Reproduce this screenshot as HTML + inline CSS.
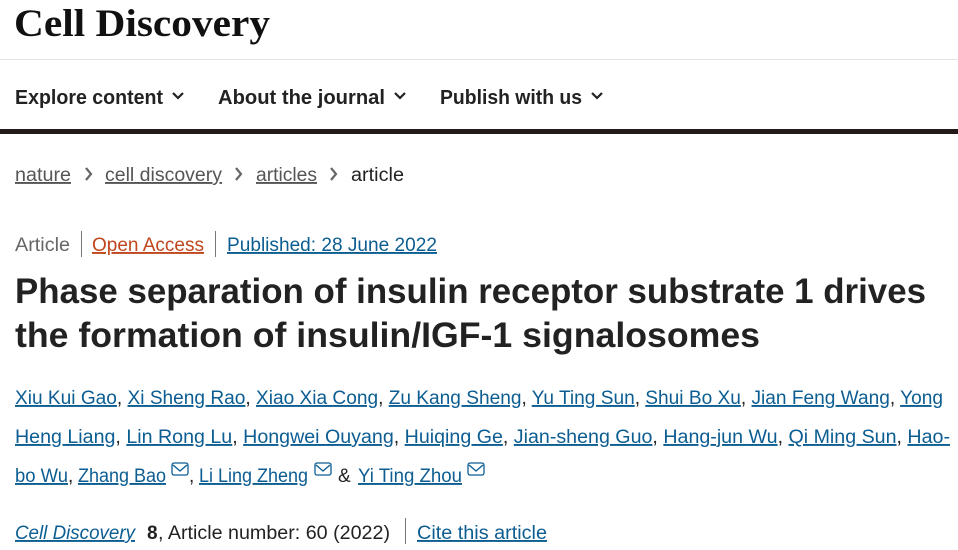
<!DOCTYPE html>
<html><head><meta charset="utf-8"><style>
html,body{margin:0;padding:0;background:#fff;width:958px;height:550px;overflow:hidden}
svg{display:block}
.u{text-decoration:underline}
</style></head><body>
<svg width="958" height="550" viewBox="0 0 958 550" xmlns="http://www.w3.org/2000/svg" font-family="Liberation Sans, sans-serif">
<text x="14" y="36" font-family="Liberation Serif, serif" font-weight="bold" font-size="39" fill="#111" textLength="256" lengthAdjust="spacingAndGlyphs">Cell Discovery</text>
<rect x="0" y="59" width="958" height="1" fill="#e4e4e4"/>
<g font-size="20" font-weight="bold" fill="#222">
<text x="15" y="104" textLength="148" lengthAdjust="spacingAndGlyphs">Explore content</text>
<text x="218" y="104" textLength="167" lengthAdjust="spacingAndGlyphs">About the journal</text>
<text x="440" y="104" textLength="142" lengthAdjust="spacingAndGlyphs">Publish with us</text>
</g>
<g fill="none" stroke="#222" stroke-width="2.2">
<path d="M173 93 L178 98 L183 93"/><path d="M395 93 L400 98 L405 93"/><path d="M592 93 L597 98 L602 93"/>
</g>
<rect x="0" y="129" width="958" height="5" fill="#231a1a"/>
<g font-size="19" fill="#555">
<text x="15" y="181" class="u" textLength="56" lengthAdjust="spacingAndGlyphs">nature</text>
<text x="105" y="181" class="u" textLength="117" lengthAdjust="spacingAndGlyphs">cell discovery</text>
<text x="256" y="181" class="u" textLength="61" lengthAdjust="spacingAndGlyphs">articles</text>
<text x="351" y="181" fill="#222" textLength="53" lengthAdjust="spacingAndGlyphs">article</text>
</g>
<g fill="none" stroke="#666" stroke-width="2.2">
<path d="M86 168 L91 174 L86 180"/><path d="M236 168 L241 174 L236 180"/><path d="M331 168 L336 174 L331 180"/>
</g>
<g font-size="19">
<text x="15" y="251" fill="#666" textLength="55" lengthAdjust="spacingAndGlyphs">Article</text>
<text x="92" y="251" fill="#c0461e" class="u" textLength="112" lengthAdjust="spacingAndGlyphs">Open Access</text>
<text x="227" y="251" fill="#0c5d92" class="u" textLength="210" lengthAdjust="spacingAndGlyphs">Published: 28 June 2022</text>
</g>
<rect x="81" y="231" width="1" height="26" fill="#777"/>
<rect x="215" y="231" width="1" height="26" fill="#777"/>
<g font-size="35" font-weight="bold" fill="#222">
<text x="15" y="303" textLength="911" lengthAdjust="spacingAndGlyphs">Phase separation of insulin receptor substrate 1 drives</text>
<text x="15" y="347" textLength="745" lengthAdjust="spacingAndGlyphs">the formation of insulin/IGF-1 signalosomes</text>
</g>
<g font-size="19" fill="#222">
<text x="15" y="404" textLength="928" lengthAdjust="spacingAndGlyphs"><tspan fill="#0c5d92" class="u">Xiu Kui Gao</tspan>, <tspan fill="#0c5d92" class="u">Xi Sheng Rao</tspan>, <tspan fill="#0c5d92" class="u">Xiao Xia Cong</tspan>, <tspan fill="#0c5d92" class="u">Zu Kang Sheng</tspan>, <tspan fill="#0c5d92" class="u">Yu Ting Sun</tspan>, <tspan fill="#0c5d92" class="u">Shui Bo Xu</tspan>, <tspan fill="#0c5d92" class="u">Jian Feng Wang</tspan>, <tspan fill="#0c5d92" class="u">Yong</tspan></text>
<text x="15" y="443" textLength="935" lengthAdjust="spacingAndGlyphs"><tspan fill="#0c5d92" class="u">Heng Liang</tspan>, <tspan fill="#0c5d92" class="u">Lin Rong Lu</tspan>, <tspan fill="#0c5d92" class="u">Hongwei Ouyang</tspan>, <tspan fill="#0c5d92" class="u">Huiqing Ge</tspan>, <tspan fill="#0c5d92" class="u">Jian-sheng Guo</tspan>, <tspan fill="#0c5d92" class="u">Hang-jun Wu</tspan>, <tspan fill="#0c5d92" class="u">Qi Ming Sun</tspan>, <tspan fill="#0c5d92" class="u">Hao-</tspan></text>
<text x="15" y="482" fill="#0c5d92" class="u" textLength="53" lengthAdjust="spacingAndGlyphs">bo Wu</text>
<text x="68" y="482">,</text>
<text x="78" y="482" fill="#0c5d92" class="u" textLength="88" lengthAdjust="spacingAndGlyphs">Zhang Bao</text>
<text x="189" y="482">,</text>
<text x="199" y="482" fill="#0c5d92" class="u" textLength="109" lengthAdjust="spacingAndGlyphs">Li Ling Zheng</text>
<text x="338" y="482">&amp;</text>
<text x="358" y="482" fill="#0c5d92" class="u" textLength="104" lengthAdjust="spacingAndGlyphs">Yi Ting Zhou</text>
</g>
<g fill="none" stroke="#0c5d92" stroke-width="1.3">
<rect x="172" y="463" width="16" height="12" rx="2"/><path d="M173 465 L180 471 L187 465"/>
<rect x="315" y="463" width="16" height="12" rx="2"/><path d="M316 465 L323 471 L330 465"/>
<rect x="468" y="463" width="16" height="12" rx="2"/><path d="M469 465 L476 471 L483 465"/>
</g>
<g font-size="19" fill="#222">
<text x="15" y="539" font-style="italic" fill="#0c5d92" class="u" textLength="120" lengthAdjust="spacingAndGlyphs">Cell Discovery</text>
<text x="147" y="539" font-weight="bold">8</text>
<text x="158" y="539" textLength="232" lengthAdjust="spacingAndGlyphs">, Article number: 60 (2022)</text>
<text x="417" y="539" fill="#0c5d92" class="u" textLength="130" lengthAdjust="spacingAndGlyphs">Cite this article</text>
</g>
<rect x="405" y="518" width="1" height="26" fill="#777"/>
</svg>
</body></html>
